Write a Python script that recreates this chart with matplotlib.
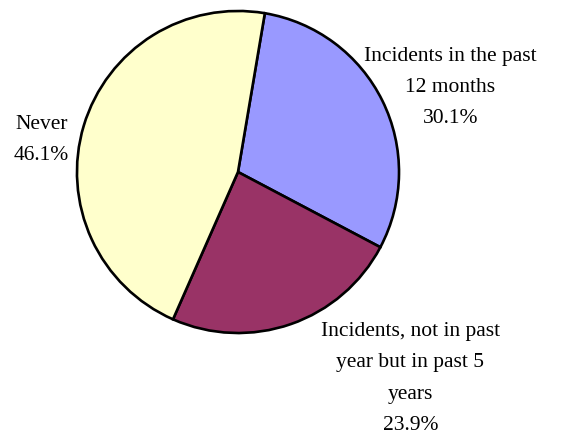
import matplotlib
matplotlib.use("Agg")
import matplotlib.pyplot as plt

categories = ["Incidents in the past\n12 months", "Incidents, not in past\nyear but in past 5\nyears", "Never"]
values = [30.1, 23.9, 46.1]
colors = ["#9999FF", "#993366", "#FFFFCC"]

plt.rcParams['font.family'] = ['Liberation Serif', 'DejaVu Serif']

fig = plt.figure(figsize=(5.61, 4.34), dpi=100)
ax = fig.add_axes([0, 0, 1, 1])
wedges, _ = ax.pie(values, colors=colors, startangle=80.4, counterclock=False,
                   wedgeprops=dict(edgecolor='black', linewidth=1.9), radius=1.0)

label_pos = [(1.32, 0.525), (1.07, -1.283), (-1.22, 0.2)]
for cat, v, (x, y) in zip(categories, values, label_pos):
    ax.text(x, y, f"{cat}\n{v:.1f}%", ha='center', va='center', fontsize=15.5,
            linespacing=1.88)

ax.set_xlim(-1.478, 2.006)
ax.set_ylim(-1.627, 1.068)
ax.set_aspect('equal')
ax.axis('off')
fig.savefig("out.png", dpi=100)
